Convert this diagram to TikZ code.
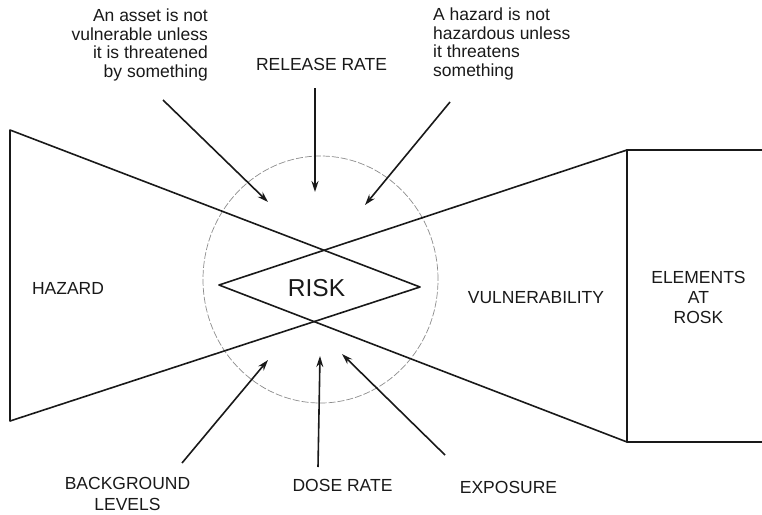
\documentclass[tikz,border=0pt]{standalone}
\usepackage{fontspec}
\setmainfont{Liberation Sans}
\usetikzlibrary{arrows.meta}

\begin{document}
\begin{tikzpicture}[
        x=1pt, y=-1pt,
        >={Stealth[length=11pt,width=7pt]},
        lbl/.style={
            inner sep=0pt,
            text=black!90,
            font=\fontsize{17.5}{18.5}\selectfont
        },
        outline/.style={
            line width=1.6pt,
            draw=black!90,
            line join=round
        },
        zone/.style={
            draw=black!45,
            line width=0.7pt,
            dash pattern=on 7pt off 2pt
        },
        arrow/.style={
            ->,
            line width=1.6pt,
            draw=black!90
        }
    ]

    \useasboundingbox (0,0) rectangle (762,514);

    % hazard and vulnerability wedges, their overlap is the risk
    \coordinate (hz_top)   at (10,130);
    \coordinate (hz_bot)   at (10,421);
    \coordinate (hz_apex)  at (420,287);
    \coordinate (vl_top)   at (627,150);
    \coordinate (vl_bot)   at (627,442);
    \coordinate (vl_apex)  at (219,285);
    \coordinate (box_ne)   at (775,150);
    \coordinate (box_se)   at (775,442);

    \draw[zone] (320.5,279.5) ellipse [x radius=117.5pt, y radius=123.5pt];

    \draw[outline] (hz_top) -- (hz_apex) -- (hz_bot) -- cycle;
    \draw[outline] (vl_top) -- (vl_apex) -- (vl_bot);
    \draw[outline, line width=1.8pt] (box_ne) -- (vl_top) -- (vl_bot) -- (box_se);

    \node[lbl, anchor=base, font=\fontsize{24.5}{25}\selectfont] (risk) at (316.5,296) {RISK};
    \node[lbl, anchor=base] (hazard)   at (68,294)    {HAZARD};
    \node[lbl, anchor=base] (vuln)     at (536,303)   {VULNERABILITY};
    \node[lbl, anchor=north, align=center, font=\fontsize{17.5}{20}\selectfont] (elements) at (698.5,271) {ELEMENTS\\AT\\ROSK};

    \node[lbl, anchor=north east, align=right] (asset)  at (208,9) {An asset is not\\vulnerable unless\\it is threatened\\by something};
    \node[lbl, anchor=north west, align=left]  (threat) at (433,8) {A hazard is not\\hazardous unless\\it threatens\\something};
    \node[lbl, anchor=base] (release) at (321.5,70) {RELEASE RATE};

    \node[lbl, anchor=north, align=center, font=\fontsize{17.5}{21}\selectfont] (background) at (127.5,477) {BACKGROUND\\LEVELS};
    \node[lbl, anchor=base] (dose)     at (342.5,491) {DOSE RATE};
    \node[lbl, anchor=base] (exposure) at (508.5,493) {EXPOSURE};

    % arrow ends
    \coordinate (asset_tail)    at (163,100);
    \coordinate (asset_tip)     at (268,202);
    \coordinate (release_tail)  at (315,88);
    \coordinate (release_tip)   at (315,192);
    \coordinate (threat_tail)   at (450,102);
    \coordinate (threat_tip)    at (365,205);
    \coordinate (backgr_tail)   at (182,463);
    \coordinate (backgr_tip)    at (268,360);
    \coordinate (dose_tail)     at (318,467);
    \coordinate (dose_tip)      at (320,356);
    \coordinate (exposure_tail) at (445,455);
    \coordinate (exposure_tip)  at (342,354);

    \draw[arrow] (asset_tail) -- (asset_tip);
    \draw[arrow] (release_tail) -- (release_tip);
    \draw[arrow] (threat_tail) -- (threat_tip);
    \draw[arrow] (backgr_tail) -- (backgr_tip);
    \draw[arrow] (dose_tail) -- (dose_tip);
    \draw[arrow] (exposure_tail) -- (exposure_tip);

\end{tikzpicture}
\end{document}
